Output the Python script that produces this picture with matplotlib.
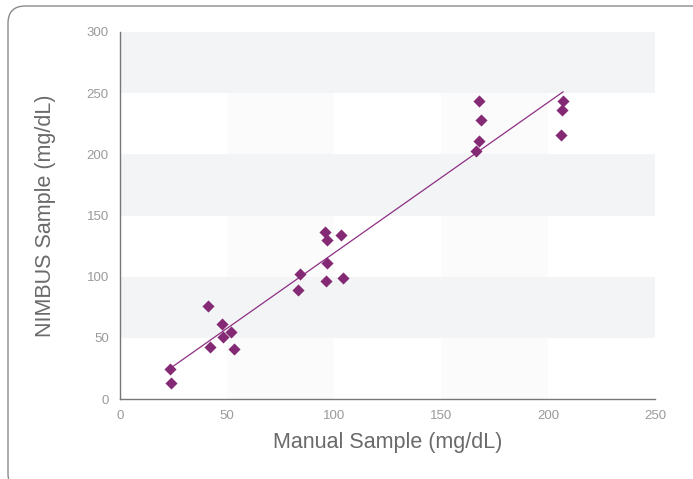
import numpy as np
import matplotlib.pyplot as plt
from matplotlib.patches import FancyBboxPatch

manual = [23.5, 24.0, 41.1, 42.2, 47.5, 48.0, 52.1, 53.5, 84.0, 83.0, 95.7, 96.6,
          96.6, 96.2, 103.5, 104.4, 167.6, 168.5, 167.6, 166.2, 207.0, 206.4, 205.9]
nimbus = [24.3, 13.3, 76.0, 42.8, 61.3, 50.4, 54.8, 41.1, 101.9, 89.1, 136.8, 130.0,
          111.2, 96.7, 134.0, 98.6, 243.9, 227.8, 211.2, 202.7, 243.9, 236.0, 215.8]
x_ticks = [0, 50, 100, 150, 200, 250]
y_ticks = [0, 50, 100, 150, 200, 250, 300]

plt.rcParams['font.family'] = ['Liberation Sans', 'DejaVu Sans']

fig = plt.figure(figsize=(6.93, 4.79), dpi=100)

# rounded frame around the figure
frame = FancyBboxPatch((8 / 693, -12 / 479), 720 / 693, 485 / 479,
                       boxstyle='round,pad=0,rounding_size=0.025',
                       transform=fig.transFigure, facecolor='none',
                       edgecolor='#8a8a8a', linewidth=1.0, mutation_aspect=693 / 479)
fig.patches.append(frame)

ax = fig.add_axes([120 / 693, 80 / 479, 535 / 693, 367 / 479])

# background bands
for x0 in [50, 150]:
    ax.axvspan(x0, x0 + 50, color='#fbfbfc', zorder=0, lw=0)
for y0 in [50, 150, 250]:
    ax.axhspan(y0, y0 + 50, color='#f3f4f6', zorder=0.5, lw=0)

ax.scatter(manual, nimbus, marker='D', s=38, color='#842a75', zorder=3, lw=0)

# linear fit
m, b = np.polyfit(manual, nimbus, 1)
xs = np.array([min(manual), max(manual)])
ax.plot(xs, m * xs + b, color='#8e2f83', lw=0.9, zorder=2)

ax.set_xlim(0, 250)
ax.set_ylim(0, 300)
ax.set_xticks(x_ticks)
ax.set_yticks(y_ticks)
ax.tick_params(length=0, labelsize=9.5, labelcolor='#9a9a9a', pad=8)
for s in ['top', 'right']:
    ax.spines[s].set_visible(False)
for s in ['left', 'bottom']:
    ax.spines[s].set_color('#777777')
    ax.spines[s].set_linewidth(1.0)

ax.set_xlabel('Manual Sample (mg/dL)', fontsize=15.5, color='#6a6a6a', labelpad=7)
ax.set_ylabel('NIMBUS Sample (mg/dL)', fontsize=15.5, color='#6a6a6a', labelpad=22)

fig.savefig('out.png', dpi=100)
